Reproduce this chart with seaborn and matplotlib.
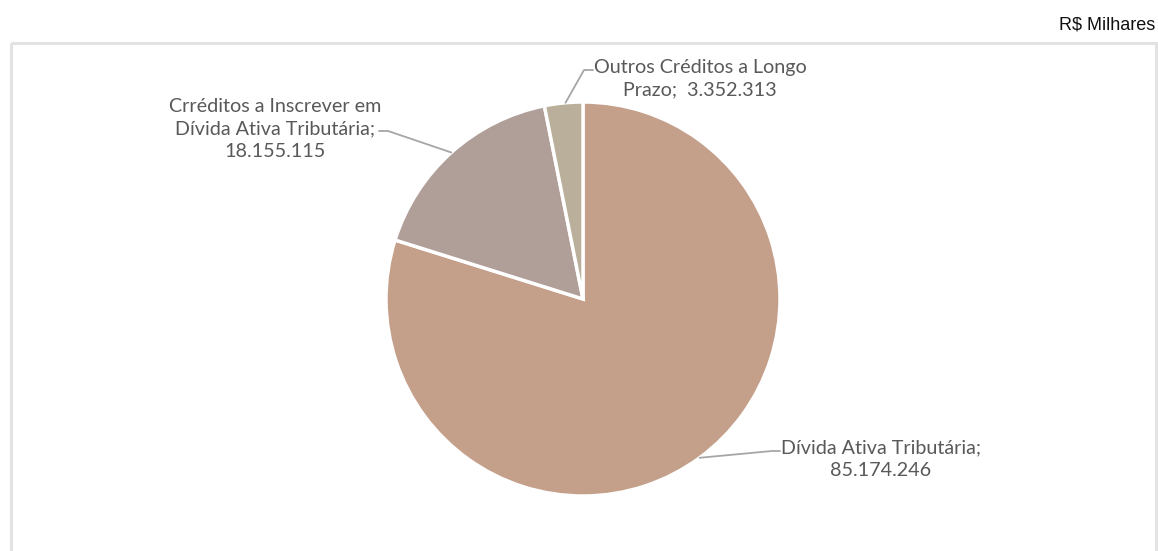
import numpy as np
import matplotlib
matplotlib.use("Agg")
import matplotlib.pyplot as plt
import seaborn as sns
from matplotlib.patches import Rectangle

# Composição dos créditos (R$ milhares)
categorias = [
    "Dívida Ativa Tributária",
    "Crréditos a Inscrever em\nDívida Ativa Tributária",
    "Outros Créditos a Longo\nPrazo",
]
valores = [85174246, 18155115, 3352313]
cores = ["#C49F8A", "#B09E98", "#B9AF9B"]

def fmt_br(v):
    return f"{v:,}".replace(",", ".")

sns.set_theme(style="white")
plt.rcParams["font.family"] = ["Lato", "DejaVu Sans"]

W, H = 1158, 551
fig = plt.figure(figsize=(W / 100, H / 100), dpi=100)
ax = fig.add_axes([0, 0, 1, 1])

cx, cy, r = 583, 299, 197

wedges, _ = ax.pie(valores, colors=cores, startangle=90, counterclock=False,
                   radius=r, center=(cx, cy),
                   wedgeprops=dict(edgecolor="white", linewidth=2.5))
# pie draws with y upward; the axes below run y downward, so mirror wedges
for w in wedges:
    t1, t2 = w.theta1, w.theta2
    w.set_theta1(-t2)
    w.set_theta2(-t1)

ax.set_xlim(0, W)
ax.set_ylim(H, 0)
ax.set_aspect("equal")
ax.axis("off")

# Moldura do gráfico
ax.add_patch(Rectangle((11, 43), 1145, 520, fill=False, edgecolor="#E3E3E3",
                       linewidth=2.2, zorder=0))

def edge_point(w, frac=0.5):
    ang = np.deg2rad(w.theta1 + frac * (w.theta2 - w.theta1))
    return cx + r * np.cos(ang), cy + r * np.sin(ang)

txt_kw = dict(color="#595959", fontsize=14.2, ha="center", va="center",
              linespacing=1.4)
line_kw = dict(color="#A6A6A6", linewidth=1.3)

# Dívida Ativa Tributária
ex, ey = edge_point(wedges[0], 0.50)
ax.plot([ex, 772, 780], [ey, 451, 451], **line_kw)
ax.text(881, 459, f"{categorias[0]};\n{fmt_br(valores[0])}", **txt_kw)

# Créditos a inscrever
ex, ey = edge_point(wedges[1], 0.50)
ax.plot([ex, 388, 379], [ey, 131, 131], **line_kw)
ax.text(275, 129, f"{categorias[1]};\n{fmt_br(valores[1])}", **txt_kw)

# Outros créditos
ex, ey = edge_point(wedges[2], 0.55)
ax.plot([ex, 584, 593], [ey, 70, 70], **line_kw)
ax.text(700, 79, f"{categorias[2]};  {fmt_br(valores[2])}", **txt_kw)

# Unidade
fig.text(1155 / W, 1 - 25 / H, "R$ Milhares", ha="right", va="center",
         fontsize=13, color="#111111", family=["Liberation Sans", "DejaVu Sans"])

fig.savefig("out.png", dpi=100, facecolor="white")
